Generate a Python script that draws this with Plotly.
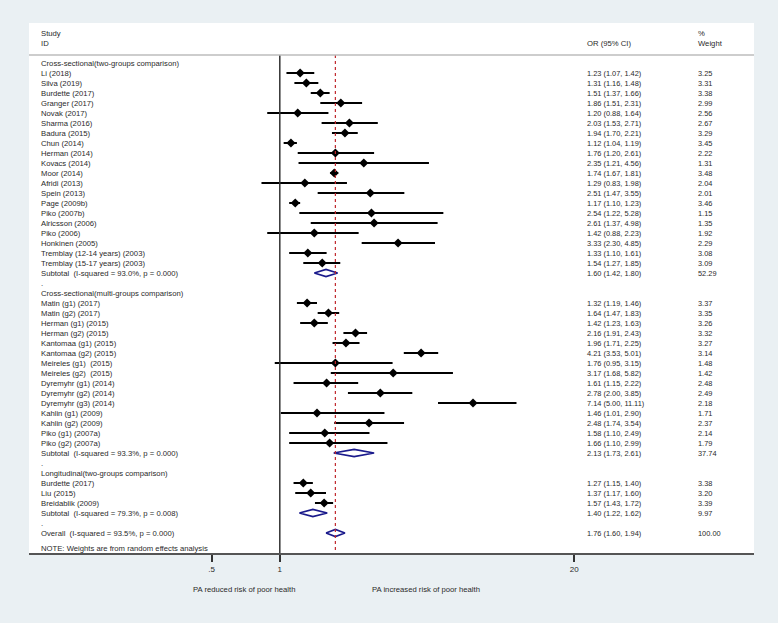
import plotly.graph_objects as go

# study rows, by group
group_titles = ["Cross-sectional(two-groups comparison)",
                "Cross-sectional(multi-groups comparison)",
                "Longitudinal(two-groups comparison)"]
group_sizes = [20, 15, 3]

studies = ["Li (2018)", "Silva (2019)", "Burdette (2017)", "Granger (2017)", "Novak (2017)",
           "Sharma (2016)", "Badura (2015)", "Chun (2014)", "Herman (2014)", "Kovacs (2014)",
           "Moor (2014)", "Afridi (2013)", "Spein (2013)", "Page (2009b)", "Piko (2007b)",
           "Alricsson (2006)", "Piko (2006)", "Honkinen (2005)",
           "Tremblay (12-14 years) (2003)", "Tremblay (15-17 years) (2003)",
           "Matin (g1) (2017)", "Matin (g2) (2017)", "Herman (g1) (2015)", "Herman (g2) (2015)",
           "Kantomaa (g1) (2015)", "Kantomaa (g2) (2015)", "Meireles (g1)  (2015)",
           "Meireles (g2)  (2015)", "Dyremyhr (g1) (2014)", "Dyremyhr (g2) (2014)",
           "Dyremyhr (g3) (2014)", "Kahlin (g1) (2009)", "Kahlin (g2) (2009)",
           "Piko (g1) (2007a)", "Piko (g2) (2007a)",
           "Burdette (2017)", "Liu (2015)", "Breidablik (2009)"]
or_est = [1.23, 1.31, 1.51, 1.86, 1.20, 2.03, 1.94, 1.12, 1.76, 2.35, 1.74, 1.29, 2.51, 1.17,
          2.54, 2.61, 1.42, 3.33, 1.33, 1.54,
          1.32, 1.64, 1.42, 2.16, 1.96, 4.21, 1.76, 3.17, 1.61, 2.78, 7.14, 1.46, 2.48, 1.58, 1.66,
          1.27, 1.37, 1.57]
ci_lo = [1.07, 1.16, 1.37, 1.51, 0.88, 1.53, 1.70, 1.04, 1.20, 1.21, 1.67, 0.83, 1.47, 1.10,
         1.22, 1.37, 0.88, 2.30, 1.10, 1.27,
         1.19, 1.47, 1.23, 1.91, 1.71, 3.53, 0.95, 1.68, 1.15, 2.00, 5.00, 1.01, 1.74, 1.10, 1.10,
         1.15, 1.17, 1.43]
ci_hi = [1.42, 1.48, 1.66, 2.31, 1.64, 2.71, 2.21, 1.19, 2.61, 4.56, 1.81, 1.98, 3.55, 1.23,
         5.28, 4.98, 2.23, 4.85, 1.61, 1.85,
         1.46, 1.83, 1.63, 2.43, 2.25, 5.01, 3.15, 5.82, 2.22, 3.85, 11.11, 2.90, 3.54, 2.49, 2.99,
         1.40, 1.60, 1.72]
weights = ["3.25", "3.31", "3.38", "2.99", "2.56", "2.67", "3.29", "3.45", "2.22", "1.31",
           "3.48", "2.04", "2.01", "3.46", "1.15", "1.35", "1.92", "2.29", "3.08", "3.09",
           "3.37", "3.35", "3.26", "3.32", "3.27", "3.14", "1.48", "1.42", "2.48", "2.49",
           "2.18", "1.71", "2.37", "2.14", "1.79",
           "3.38", "3.20", "3.39"]

# subtotals and overall
sub_labels = ["Subtotal  (I-squared = 93.0%, p = 0.000)",
              "Subtotal  (I-squared = 93.3%, p = 0.000)",
              "Subtotal  (I-squared = 79.3%, p = 0.008)"]
sub_est = [1.60, 2.13, 1.40]
sub_lo = [1.42, 1.73, 1.22]
sub_hi = [1.80, 2.61, 1.62]
sub_wt = ["52.29", "37.74", "9.97"]
overall_label = "Overall  (I-squared = 93.5%, p = 0.000)"
overall_est, overall_lo, overall_hi, overall_wt = 1.76, 1.60, 1.94, "100.00"

FAM = "Liberation Sans, Arial, sans-serif"
TXT = dict(family=FAM, size=7.7, color="#2a2a2a")
NUM = dict(family=FAM, size=7.4, color="#2a2a2a")
X_LAB, X_OR, X_WT = 0.0134, 0.767, 0.920

annos = []


def add_row(y, label, est=None, lo=None, hi=None, wt=None):
    annos.append(dict(x=X_LAB, y=y, xref="paper", yref="y", text=label.replace("  ", "\u00a0 "),
                      showarrow=False, xanchor="left", yanchor="middle", font=TXT))
    if est is not None:
        annos.append(dict(x=X_OR, y=y, xref="paper", yref="y",
                          text=f"{est:.2f} ({lo:.2f}, {hi:.2f})",
                          showarrow=False, xanchor="left", yanchor="middle", font=NUM))
        annos.append(dict(x=X_WT, y=y, xref="paper", yref="y", text=wt,
                          showarrow=False, xanchor="left", yanchor="middle", font=NUM))


pt_y, pt_x, pt_lo, pt_hi = [], [], [], []
dia_x, dia_y = [], []
H = 0.36


def add_diamond(y, est, lo, hi):
    dia_x.extend([lo, est, hi, est, lo, None])
    dia_y.extend([y, y - H, y, y + H, y, None])


row = 0
k = 0
for g, title in enumerate(group_titles):
    add_row(row, title)
    row += 1
    for _ in range(group_sizes[g]):
        add_row(row, studies[k], or_est[k], ci_lo[k], ci_hi[k], weights[k])
        pt_y.append(row)
        pt_x.append(or_est[k])
        pt_lo.append(or_est[k] - ci_lo[k])
        pt_hi.append(ci_hi[k] - or_est[k])
        k += 1
        row += 1
    add_row(row, sub_labels[g], sub_est[g], sub_lo[g], sub_hi[g], sub_wt[g])
    add_diamond(row, sub_est[g], sub_lo[g], sub_hi[g])
    row += 1
    add_row(row, ".")
    row += 1
add_row(row, overall_label, overall_est, overall_lo, overall_hi, overall_wt)
add_diamond(row, overall_est, overall_lo, overall_hi)
last_row = row
annos.append(dict(x=X_LAB, y=last_row + 1.5, xref="paper", yref="y",
                  text="NOTE: Weights are from random effects analysis",
                  showarrow=False, xanchor="left", yanchor="middle", font=TXT))

# header
for txt, xx, yy in [("Study", X_LAB, -3), ("ID", X_LAB, -2), ("OR (95% CI)", X_OR, -2),
                    ("%", X_WT, -3), ("Weight", X_WT, -2)]:
    annos.append(dict(x=xx, y=yy, xref="paper", yref="y", text=txt, showarrow=False,
                      xanchor="left", yanchor="middle", font=TXT))

# bottom captions
for txt, xx in [("PA reduced risk of poor health", 0.296), ("PA increased risk of poor health", 0.547)]:
    annos.append(dict(x=xx, y=-0.068, xref="paper", yref="paper", text=txt, showarrow=False,
                      xanchor="center", yanchor="middle", font=TXT))

fig = go.Figure()
fig.add_trace(go.Scatter(
    x=pt_x, y=pt_y, mode="markers",
    marker=dict(symbol="diamond", size=7, color="black"),
    error_x=dict(type="data", symmetric=False, array=pt_hi, arrayminus=pt_lo,
                 width=0, thickness=2, color="black"),
    hoverinfo="skip", showlegend=False))
fig.add_trace(go.Scatter(
    x=dia_x, y=dia_y, mode="lines", line=dict(color="#1a1a8c", width=1.6),
    hoverinfo="skip", showlegend=False))

top = -0.8
fig.add_shape(type="line", xref="x", yref="y", x0=1, x1=1, y0=top, y1=49,
              line=dict(color="#333333", width=1.5))
fig.add_shape(type="line", xref="x", yref="y", x0=overall_est, x1=overall_est, y0=top, y1=49,
              line=dict(color="#c0282d", width=1.2, dash="3px,3px"))
fig.add_shape(type="line", xref="paper", yref="y", x0=0, x1=1, y0=top, y1=top,
              line=dict(color="#bdbdbd", width=1.5))

fig.update_layout(
    width=778, height=623,
    margin=dict(l=29, r=24, t=23, b=70),
    paper_bgcolor="#eaf0f3", plot_bgcolor="white",
    annotations=annos,
    xaxis=dict(type="log", range=[-1.108, 2.095], tickvals=[0.5, 1, 20],
               ticktext=[".5", "1", "20"], ticks="outside", ticklen=7, tickwidth=1.5,
               tickcolor="#333333", showline=True, linecolor="#555555", linewidth=2,
               showgrid=False, zeroline=False,
               tickfont=dict(family=FAM, size=8, color="#2a2a2a")),
    yaxis=dict(range=[49, -4], showticklabels=False, showgrid=False, zeroline=False,
               showline=False, ticks=""),
)

fig.write_html("out.html", config={"displayModeBar": False},
               post_script="document.body.style.margin='0';"
                           "document.body.style.overflow='hidden';")
